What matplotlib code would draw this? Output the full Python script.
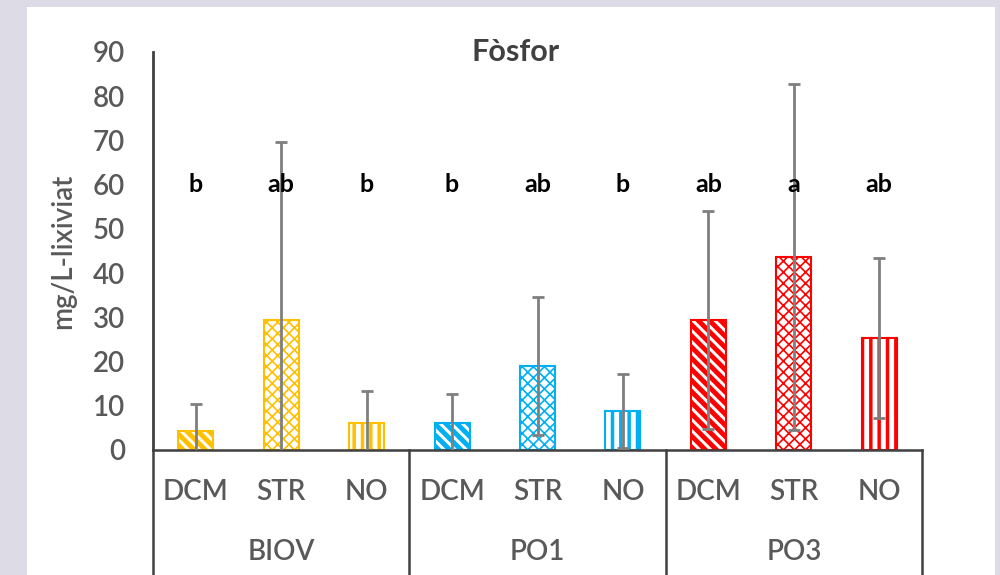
import matplotlib
matplotlib.use('Agg')
import matplotlib.pyplot as plt
from matplotlib.patches import Rectangle
import numpy as np

# dades llegides del gràfic
groups = ['BIOV', 'PO1', 'PO3']
treatments = ['DCM', 'STR', 'NO']
means = [4.3, 29.4, 6.1,
         6.1, 19.0, 8.8,
         29.4, 43.7, 25.3]
errors = [6.0, 40.3, 7.2,
          6.6, 15.7, 8.4,
          24.6, 39.1, 18.1]
letters = ['b', 'ab', 'b',
           'b', 'ab', 'b',
           'ab', 'a', 'ab']
group_colors = ['#FFC000', '#00B0F0', '#FF0000']
hatches = ['\\\\\\', 'xxx', '||']
hatch_lw = [3.5, 1.2, 2.5]

plt.rcParams['font.family'] = ['Lato', 'DejaVu Sans']

fig = plt.figure(figsize=(10, 5.75), dpi=100)
fig.patch.set_facecolor('#dddbe5')
# targeta blanca de fons
fig.patches.append(Rectangle((0.027, 0), 0.968, 0.988, transform=fig.transFigure,
                             facecolor='white', edgecolor='none', zorder=-5))

ax = fig.add_axes([0.153, 0.2174, 0.769, 0.6922])
ax.set_facecolor('none')

n = len(means)
x = np.arange(n) + 0.5
for i in range(n):
    g = i // 3
    t = i % 3
    with plt.rc_context({'hatch.linewidth': hatch_lw[t]}):
        ax.bar(x[i], means[i], width=0.41, facecolor='white',
               edgecolor=group_colors[g], hatch=hatches[t], linewidth=1.5, zorder=2)
    ax.errorbar(x[i], means[i], yerr=errors[i], fmt='none', ecolor='#7f7f7f',
                elinewidth=2, capsize=4.5, capthick=2, zorder=3)
    ax.text(x[i], 60, letters[i], ha='center', va='center', fontsize=18,
            fontweight='bold', color='black', zorder=4)

ax.set_xlim(0, n)
ax.set_ylim(0, 90)
ax.set_yticks(range(0, 91, 10))
ax.tick_params(axis='y', length=0, pad=20, labelsize=20, labelcolor='#595959')
for lab in ax.get_yticklabels():
    lab.set_fontweight('semibold')
ax.set_xticks([])

for s in ['top', 'right']:
    ax.spines[s].set_visible(False)
ax.spines['left'].set_color('#404040')
ax.spines['left'].set_linewidth(2)
ax.spines['bottom'].set_color('#404040')
ax.spines['bottom'].set_linewidth(1.8)

ax.set_ylabel('mg/L-lixiviat', fontsize=20, fontweight='semibold', color='#595959', labelpad=12)
fig.text(0.516, 0.909, 'Fòsfor', fontsize=22, fontweight='bold', color='#404040',
         ha='center', va='center')

# etiquetes de l'eix x en dos nivells
trans = ax.get_xaxis_transform()
for i in range(n):
    ax.text(x[i], -0.106, treatments[i % 3], transform=trans, ha='center', va='center',
            fontsize=20, fontweight='semibold', color='#595959')
for g in range(len(groups)):
    ax.text(g * 3 + 1.5, -0.256, groups[g], transform=trans, ha='center', va='center',
            fontsize=20, fontweight='semibold', color='#595959')
for b in range(len(groups) + 1):
    ax.plot([b * 3, b * 3], [0, -0.32], transform=trans, color='#404040',
            linewidth=1.8, clip_on=False)

fig.savefig('out.png', dpi=100, facecolor=fig.get_facecolor())
